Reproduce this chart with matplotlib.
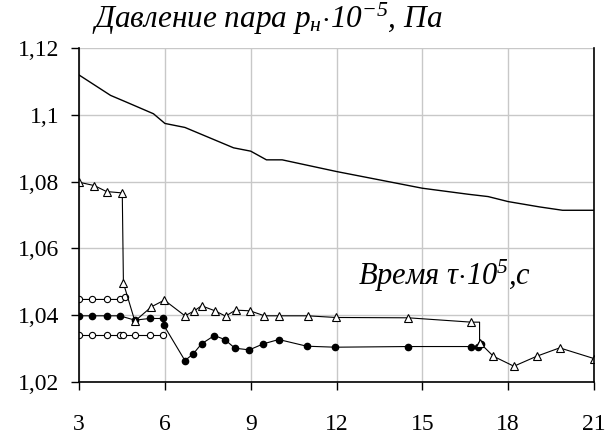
import matplotlib
matplotlib.use("Agg")
import matplotlib.pyplot as plt
import numpy as np

plt.rcParams['font.family'] = ['Liberation Serif', 'DejaVu Serif']
plt.rcParams['mathtext.fontset'] = 'custom'
plt.rcParams['mathtext.rm'] = 'Liberation Serif:italic'
plt.rcParams['mathtext.it'] = 'Liberation Serif:italic'
plt.rcParams['mathtext.default'] = 'it'

# upper curve, no markers
upper_t = [3.0, 4.1, 4.65, 5.6, 6.0, 6.7, 8.4, 9.0, 9.55, 10.1, 12.0, 15.0, 16.6, 17.3, 18.0, 19.1, 19.9, 20.5, 21.0]
upper_p = [1.1119, 1.1058, 1.1038, 1.1003, 1.0974, 1.0962, 1.0901, 1.0891, 1.0865, 1.0865, 1.0830,
           1.0780, 1.0762, 1.0755, 1.0740, 1.0724, 1.0714, 1.0714, 1.0714]

# open triangles
tri_t = [3.0, 3.53, 3.96, 4.51, 4.55, 4.95, 5.53, 5.98, 6.70, 7.01, 7.28, 7.75, 8.12, 8.47, 8.97, 9.48,
         9.99, 10.99, 11.97, 14.51, 16.71, 17.0, 17.0, 17.48, 18.2, 19.0, 19.8, 21.0]
tri_p = [1.0798, 1.0788, 1.0770, 1.0766, 1.0496, 1.0382, 1.0425, 1.0445, 1.0398, 1.0412, 1.0428, 1.0413,
         1.0397, 1.0415, 1.0413, 1.0398, 1.0398, 1.0398, 1.0393, 1.0392, 1.0379, 1.0379, 1.0318, 1.0277,
         1.0247, 1.0277, 1.0302, 1.0270]
tri_marked = [i for i in range(len(tri_t)) if i != 21]

# filled circles
fill_t = [3.0, 3.46, 3.96, 4.42, 4.95, 5.47, 5.94, 5.96, 6.70, 6.99, 7.28, 7.73, 8.09, 8.45, 8.95, 9.44, 9.98,
          10.96, 11.95, 14.5, 16.7, 16.95, 17.05]
fill_p = [1.0398, 1.0398, 1.0398, 1.0398, 1.0385, 1.0390, 1.0390, 1.0370, 1.0264, 1.0284, 1.0314, 1.0339, 1.0327,
          1.0301, 1.0296, 1.0314, 1.0327, 1.0307, 1.0304, 1.0306, 1.0306, 1.0306, 1.0315]

# open circles, upper level
circ_t = [3.0, 3.46, 3.96, 4.42, 4.6]
circ_p = [1.0447, 1.0447, 1.0447, 1.0447, 1.0455]

# open circles, lower level
low_t = [3.0, 3.46, 3.96, 4.42, 4.52, 4.95, 5.47, 5.94]
low_p = [1.0341, 1.0341, 1.0341, 1.0341, 1.0341, 1.0341, 1.0341, 1.0341]

xticks = [3, 6, 9, 12, 15, 18, 21]
yticks = [1.02, 1.04, 1.06, 1.08, 1.10, 1.12]
ylabels = ['1,02', '1,04', '1,06', '1,08', '1,1', '1,12']

fig = plt.figure(figsize=(6.13, 4.36), dpi=100)
ax = fig.add_axes([0.129, 0.124, 0.840, 0.766])

ax.plot(upper_t, upper_p, color='black', lw=1.0)
ax.plot(low_t, low_p, color='black', lw=0.8, marker='o', ms=4.5, mfc='white', mec='black', mew=0.8)
ax.plot(circ_t, circ_p, color='black', lw=0.8, marker='o', ms=4.5, mfc='white', mec='black', mew=0.8)
ax.plot(fill_t, fill_p, color='black', lw=0.8, marker='o', ms=4.5, mfc='black', mec='black')
ax.plot(tri_t, tri_p, color='black', lw=0.8, marker='^', ms=5.5, mfc='white', mec='black', mew=0.8,
        markevery=tri_marked)

ax.set_xlim(3, 21)
ax.set_ylim(1.02, 1.12)
ax.set_xticks(xticks)
ax.set_xticklabels([str(v) for v in xticks])
ax.set_yticks(yticks)
ax.set_yticklabels(ylabels)
ax.tick_params(length=6, width=1, direction='out')
ax.tick_params(axis='x', labelsize=17, pad=17)
ax.tick_params(axis='y', labelsize=17, pad=8)
ax.grid(True, color='#c8c8c8', lw=1)
ax.set_axisbelow(True)
ax.spines['top'].set_visible(False)
for s in ['left', 'bottom', 'right']:
    ax.spines[s].set_linewidth(1.2)

fig.text(0.150, 0.936, 'Давление пара $p_н{\\cdot}10^{-5}$, Па', fontsize=22.5, style='italic',
         ha='left', va='baseline')
ax.text(12.75, 1.049, 'Время $τ{\\cdot}10^{5}$,с', fontsize=22, style='italic',
        ha='left', va='baseline')

fig.savefig('out.png', dpi=100)
